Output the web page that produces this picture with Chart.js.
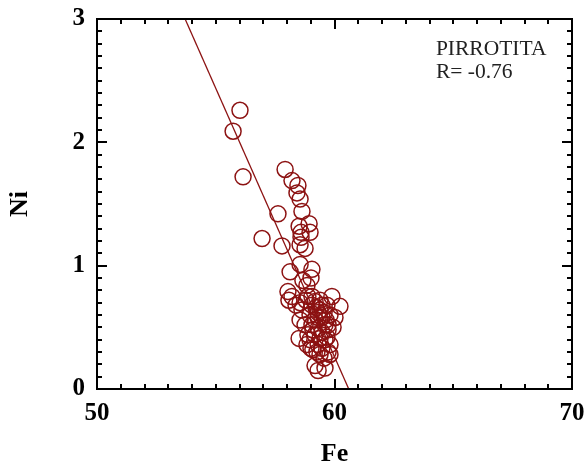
<!DOCTYPE html>
<html>
<head>
<meta charset="utf-8">
<script src="https://cdn.jsdelivr.net/npm/chart.js@4"></script>
<style>
  body { margin: 0; background: #fff; }
  #wrap { width: 586px; height: 472px; }
</style>
</head>
<body>
<div id="wrap"><canvas id="myChart" width="586" height="472"></canvas></div>
<script>
// Fe / Ni contents of pyrrhotite grains
const feValues = [
  56.02, 55.73, 56.15, 57.92, 58.21, 58.46, 58.42, 58.55, 58.63, 57.62,
  58.51, 58.93, 58.97, 58.59, 58.59, 58.55, 58.76, 56.95, 57.79, 58.13,
  58.55, 59.05, 59.01, 58.04, 58.21, 58.08, 58.84, 58.88, 59.18, 59.89,
  60.23, 60.02, 59.68, 59.39, 58.63, 58.55, 58.51, 59.09, 59.73, 59.18,
  59.60, 59.31,
  58.97, 59.18, 59.31, 59.47, 59.60, 59.05, 59.31, 59.47, 59.73, 59.18,
  59.39, 59.60, 58.97, 59.31, 59.47, 59.81, 59.09, 58.76, 58.88, 59.64,
  59.81, 59.22, 59.47, 59.05, 59.68, 59.39, 59.56, 59.26, 58.84, 59.81,
  59.31, 59.56, 59.01, 59.73, 59.94, 58.80, 59.39, 58.55, 59.05, 58.38,
  58.67
];
const niValues = [
  2.26, 2.09, 1.72, 1.78, 1.69, 1.65, 1.59, 1.54, 1.44, 1.42,
  1.32, 1.34, 1.27, 1.27, 1.23, 1.17, 1.14, 1.22, 1.16, 0.95,
  1.01, 0.97, 0.90, 0.79, 0.75, 0.72, 0.84, 0.75, 0.71, 0.75,
  0.67, 0.58, 0.68, 0.64, 0.64, 0.56, 0.41, 0.32, 0.30, 0.19,
  0.17, 0.15,
  0.60, 0.56, 0.62, 0.58, 0.52, 0.52, 0.49, 0.46, 0.48, 0.44,
  0.41, 0.40, 0.40, 0.36, 0.33, 0.36, 0.48, 0.52, 0.44, 0.56,
  0.60, 0.66, 0.68, 0.68, 0.42, 0.28, 0.25, 0.30, 0.36, 0.28,
  0.58, 0.62, 0.33, 0.52, 0.50, 0.72, 0.72, 0.70, 0.75, 0.68,
  0.88
];

// fitted regression line, end points
const fitFe = [53.71, 60.60];
const fitNi = [3.0, 0.0];

const xTicks = [50, 60, 70];
const yTicks = [0, 1, 2, 3];
const noteLines = ['PIRROTITA', 'R= -0.76'];

const dark = 'rgb(140,18,18)';
const serif = '"Liberation Serif", "Times New Roman", serif';

const points = feValues.map((fe, i) => ({x: fe, y: niValues[i]}));
const fitLine = fitFe.map((fe, i) => ({x: fe, y: fitNi[i]}));

// frame, inward ticks and the note text
const framePlugin = {
  id: 'frame',
  afterDraw(chart) {
    const c = chart.ctx;
    const a = chart.chartArea;
    const xs = chart.scales.x, ys = chart.scales.y;
    c.save();
    c.strokeStyle = '#000';
    c.lineWidth = 2;
    c.strokeRect(a.left, a.top, a.right - a.left, a.bottom - a.top);

    c.beginPath();
    for (let v = 50; v <= 70.001; v += 1) {
      const px = Math.round(xs.getPixelForValue(v));
      const len = (Math.round(v) % 10 === 0) ? 10 : 5;
      c.moveTo(px, a.bottom); c.lineTo(px, a.bottom - len);
      c.moveTo(px, a.top); c.lineTo(px, a.top + len);
    }
    for (let k = 0; k <= 30; k++) {
      const py = Math.round(ys.getPixelForValue(k / 10));
      const len = (k % 10 === 0) ? 10 : 5;
      c.moveTo(a.left, py); c.lineTo(a.left + len, py);
      c.moveTo(a.right, py); c.lineTo(a.right - len, py);
    }
    c.stroke();

    c.fillStyle = '#222';
    c.font = '21.5px ' + serif;
    c.textAlign = 'left';
    c.textBaseline = 'alphabetic';
    const tx = xs.getPixelForValue(64.27);
    c.fillText(noteLines[0], tx, ys.getPixelForValue(2.71));
    c.fillText(noteLines[1], tx, ys.getPixelForValue(2.52));
    c.restore();
  }
};

const ctx = document.getElementById('myChart');

const config = {
  type: 'scatter',
  data: {
    datasets: [
      {
        label: 'Pirrotita',
        data: points,
        pointStyle: 'circle',
        pointRadius: 8,
        pointHoverRadius: 8,
        borderWidth: 1.5,
        borderColor: dark,
        backgroundColor: 'rgba(0,0,0,0)'
      },
      {
        label: 'Ajuste',
        type: 'line',
        data: fitLine,
        borderColor: dark,
        borderWidth: 1.3,
        pointRadius: 0,
        fill: false
      }
    ]
  },
  options: {
    responsive: false,
    animation: false,
    layout: { padding: { top: 19, right: 14, left: 0, bottom: 0 } },
    plugins: {
      legend: { display: false },
      tooltip: { enabled: false }
    },
    scales: {
      x: {
        type: 'linear',
        min: 50,
        max: 70,
        afterBuildTicks(scale) { scale.ticks = xTicks.map(v => ({value: v})); },
        afterFit(scale) {
          scale.height = 83;
          scale.paddingLeft = 0;
          scale.paddingRight = 0;
        },
        grid: { display: false, drawTicks: false },
        border: { display: false },
        ticks: {
          color: '#000',
          padding: 10,
          maxRotation: 0,
          font: { family: serif, size: 25, weight: 'bold' }
        },
        title: {
          display: true,
          text: 'Fe',
          color: '#000',
          padding: { top: 0, bottom: 5 },
          font: { family: serif, size: 26, weight: 'bold', lineHeight: 1 }
        }
      },
      y: {
        type: 'linear',
        min: 0,
        max: 3,
        afterBuildTicks(scale) { scale.ticks = yTicks.map(v => ({value: v})); },
        afterFit(scale) {
          scale.width = 97;
          scale.paddingTop = 0;
          scale.paddingBottom = 0;
        },
        grid: { display: false, drawTicks: false },
        border: { display: false },
        ticks: {
          color: '#000',
          padding: 12,
          font: { family: serif, size: 25, weight: 'bold' }
        },
        title: {
          display: true,
          text: 'Ni',
          color: '#000',
          padding: { top: 7, bottom: 0 },
          font: { family: serif, size: 26, weight: 'bold', lineHeight: 1 }
        }
      }
    }
  },
  plugins: [framePlugin]
};

new Chart(ctx, config);
</script>
</body>
</html>
